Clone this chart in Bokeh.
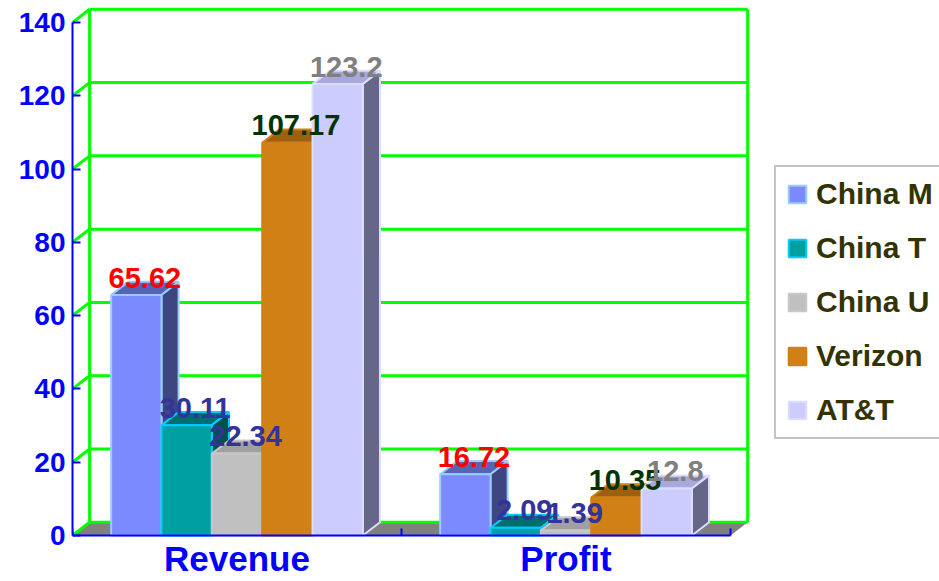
from bokeh.plotting import figure
from bokeh.models import ColumnDataSource, FixedTicker, Legend, LegendItem, Range1d
from bokeh.core.properties import value
from bokeh.embed import file_html
from bokeh.resources import INLINE

# ---- data ----
categories = ["Revenue", "Profit"]
series = ["China M", "China T", "China U", "Verizon", "AT&T"]
revenue = [65.62, 30.11, 22.34, 107.17, 123.2]
profit = [16.72, 2.09, 1.39, 10.35, 12.8]
y_ticks = [0, 20, 40, 60, 80, 100, 120, 140]

# ---- styles ----
front_colors = ["#7B8BFF", "#00A0A0", "#C0C0C0", "#D08015", "#CCCCFF"]
top_colors = ["#5565B5", "#006E6E", "#A0A0A0", "#9C6010", "#A8A8DD"]
side_colors = ["#3D4680", "#004F4F", "#7A7A7A", "#6E440B", "#666688"]
edge_colors = ["#99CCFF", "#00CCFF", "#C8C8C8", "#D08015", "#DDDDFF"]
label_colors = ["#FF0000", "#333399", "#333399", "#003300", "#808080"]

values_by_cat = [revenue, profit]
n_cat = len(categories)
y_max = y_ticks[-1]

DX = 0.052   # depth offset, x units
DY = 3.6     # depth offset, y units
BW = 0.153   # bar width, x units
G0 = 0.5 - BW * len(series) / 2

FONT = value("Liberation Sans")

p = figure(width=939, height=581,
           x_range=Range1d(0, 2.635), y_range=Range1d(-12.56, 146.0),
           output_backend="svg", toolbar_location=None,
           min_border_left=72, min_border_right=0,
           min_border_top=0, min_border_bottom=0)
p.outline_line_color = None
p.xgrid.visible = False
p.ygrid.visible = False
p.background_fill_color = "white"

# ---- floor ----
p.patch([0, n_cat, n_cat + DX, DX], [0, 0, DY, DY],
        fill_color="#808080", line_color=None)

# ---- walls (green grid) ----
gx, gy = [], []
for t in y_ticks:
    gx.append([DX, n_cat + DX]); gy.append([t + DY, t + DY])   # back wall
    gx.append([0, DX]); gy.append([t, t + DY])                 # left wall
gx.append([DX, DX]); gy.append([DY, y_max + DY])
gx.append([n_cat + DX, n_cat + DX]); gy.append([DY, y_max + DY])
p.multi_line(gx, gy, line_color="#00FF00", line_width=3)

# ---- 3D bars: one renderer per series, faces in painter order ----
lx, ly, lt, lc = [], [], [], []
series_renderers = []
for i, name in enumerate(series):
    xs, ys, fills = [], [], []
    for j, vals in enumerate(values_by_cat):
        v = vals[i]
        x0 = j + G0 + i * BW
        x1 = x0 + BW
        xs.append([x0, x1, x1 + DX, x0 + DX]); ys.append([v, v, v + DY, v + DY])
        fills.append(top_colors[i])
        xs.append([x1, x1, x1 + DX, x1 + DX]); ys.append([0, v, v + DY, DY])
        fills.append(side_colors[i])
        xs.append([x0, x1, x1, x0]); ys.append([0, 0, v, v])
        fills.append(front_colors[i])
        lx.append((x0 + x1) / 2 + DX / 2)
        ly.append(v + 4.75)
        lt.append(str(v))
        lc.append(label_colors[i])
    src = ColumnDataSource(dict(xs=xs, ys=ys, fill=fills))
    r = p.patches("xs", "ys", source=src, fill_color="fill",
                  line_color=edge_colors[i], line_width=2)
    series_renderers.append(r)

labels = ColumnDataSource(dict(x=lx, y=ly, text=lt, color=lc))
p.text("x", "y", text="text", source=labels, text_color="color",
       text_align="center", text_baseline="middle",
       text_font=FONT, text_font_style="bold", text_font_size="29px")

# ---- axes ----
yax = p.yaxis[0]
yax.ticker = FixedTicker(ticks=y_ticks)
yax.bounds = (0, y_max)
yax.axis_line_color = "#0000FF"
yax.axis_line_width = 2
yax.major_tick_line_color = "#0000FF"
yax.major_tick_line_width = 2
yax.major_tick_in = 8
yax.major_tick_out = 0
yax.minor_tick_line_color = None
yax.major_label_text_font = "Liberation Sans"
yax.major_label_text_font_style = "bold"
yax.major_label_text_font_size = "28px"
yax.major_label_text_color = "#0000FF"
yax.major_label_standoff = 7

xax = p.xaxis[0]
centers = [k + 0.5 for k in range(n_cat)]
bounds = [k for k in range(n_cat + 1)]
xax.fixed_location = 0
xax.ticker = FixedTicker(ticks=centers, minor_ticks=bounds)
xax.bounds = (0, n_cat)
xax.major_label_overrides = {c: name for c, name in zip(centers, categories)}
xax.axis_line_color = "#0000FF"
xax.axis_line_width = 2
xax.major_tick_line_color = None
xax.major_tick_in = 0
xax.major_tick_out = 0
xax.minor_tick_line_color = "#0000FF"
xax.minor_tick_line_width = 2
xax.minor_tick_in = 7
xax.minor_tick_out = 0
xax.major_label_text_font = "Liberation Sans"
xax.major_label_text_font_style = "bold"
xax.major_label_text_font_size = "35px"
xax.major_label_text_color = "#0000FF"
xax.major_label_standoff = 4

# ---- legend ----
items = [LegendItem(label=name, renderers=[r], index=2)
         for name, r in zip(series, series_renderers)]
legend = Legend(items=items, location=(702, 142))
legend.border_line_color = "#888888"
legend.border_line_width = 2
legend.background_fill_color = "white"
legend.background_fill_alpha = 1.0
legend.padding = 10
legend.spacing = 20
legend.margin = 0
legend.glyph_width = 22
legend.glyph_height = 22
legend.label_standoff = 8
legend.label_height = 30
legend.label_text_font = "Liberation Sans"
legend.label_text_font_style = "bold"
legend.label_text_font_size = "30px"
legend.label_text_color = "#333300"
p.add_layout(legend)

open("out.html", "w").write(file_html(p, INLINE))
